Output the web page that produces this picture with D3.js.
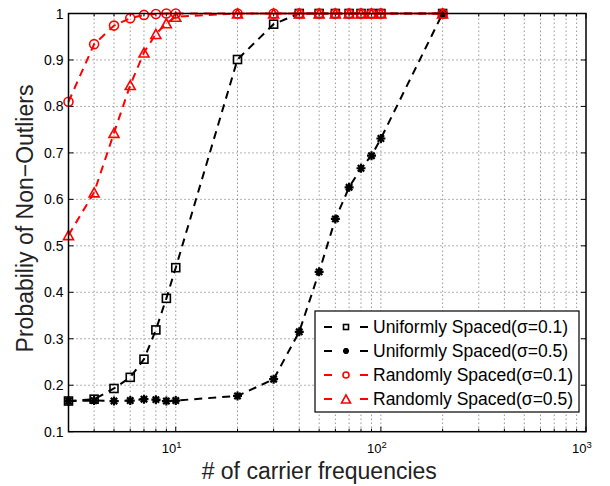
<!DOCTYPE html>
<html><head><meta charset="utf-8">
<script src="https://cdn.jsdelivr.net/npm/d3@7"></script>
<style>
html,body{margin:0;padding:0;background:#fff;}
svg text{font-family:Arial,"Liberation Sans",Helvetica,sans-serif;}
</style></head>
<body>
<svg id="chart" width="610" height="486" font-family="Arial, 'Liberation Sans', Helvetica, sans-serif"></svg>
<script>
const xVals = [3,4,5,6,7,8,9,10,20,30,40,50,60,70,80,90,100,200];
const uniform01 = [0.166,0.170,0.193,0.217,0.256,0.319,0.387,0.453,0.901,0.977,1,1,1,1,1,1,1,1];
const uniform05 = [0.166,0.167,0.166,0.167,0.170,0.169,0.166,0.167,0.177,0.213,0.315,0.444,0.558,0.626,0.667,0.694,0.731,1];
const random01 = [0.810,0.934,0.974,0.990,0.997,0.999,1,1,1,1,1,1,1,1,1,1,1,1];
const random05 = [0.523,0.615,0.743,0.846,0.916,0.956,0.979,0.993,1,1,1,1,1,1,1,1,1,1];
const seriesNames = ["Uniformly Spaced(σ=0.1)","Uniformly Spaced(σ=0.5)","Randomly Spaced(σ=0.1)","Randomly Spaced(σ=0.5)"];
const yTicks = [0.1,0.2,0.3,0.4,0.5,0.6,0.7,0.8,0.9,1];
const yTickLabels = ["0.1","0.2","0.3","0.4","0.5","0.6","0.7","0.8","0.9","1"];
const xMajor = [10,100,1000];
const xMajorExp = ["1","2","3"];
const xLabel = "# of carrier frequencies";
const yLabel = "Probabiliy of Non\u2212Outliers";

const FONT = "Arial, 'Liberation Sans', Helvetica, sans-serif";
const L = 68.5, R = 586, T = 13.5, B = 431.7;
const svg = d3.select("#chart");
const x = d3.scaleLog().domain([3,1000]).range([L,R]);
const y = d3.scaleLinear().domain([0.1,1]).range([B,T]);

const xMinor = [];
for (let d = 1; d <= 100; d *= 10) for (let k = 1; k <= 9; k++) { const v = k*d; if (v >= 3 && v <= 1000) xMinor.push(v); }
xMinor.push(1000);

const grid = svg.append("g").attr("stroke","#666").attr("stroke-width",1).attr("stroke-dasharray","1,3");
xMinor.forEach(v => { if (v > 3 && v < 1000) grid.append("line").attr("x1",x(v)).attr("x2",x(v)).attr("y1",B).attr("y2",T); });
yTicks.forEach(v => { if (v > 0.1 && v < 1) grid.append("line").attr("x1",L).attr("x2",R).attr("y1",y(v)).attr("y2",y(v)); });

const tk = svg.append("g").attr("stroke","#000").attr("stroke-width",1);
xMinor.forEach(v => {
  const len = xMajor.includes(v) ? 5 : 3;
  tk.append("line").attr("x1",x(v)).attr("x2",x(v)).attr("y1",B).attr("y2",B-len);
  tk.append("line").attr("x1",x(v)).attr("x2",x(v)).attr("y1",T).attr("y2",T+len);
});
yTicks.forEach(v => {
  tk.append("line").attr("x1",L).attr("x2",L+5).attr("y1",y(v)).attr("y2",y(v));
  tk.append("line").attr("x1",R).attr("x2",R-5).attr("y1",y(v)).attr("y2",y(v));
});

yTicks.forEach((v,i) => {
  svg.append("text").attr("x",L-5).attr("y",y(v)+5).attr("text-anchor","end")
    .attr("font-family",FONT).attr("font-size",14).attr("fill","#000").text(yTickLabels[i]);
});
xMajor.forEach((v,i) => {
  const t = svg.append("text").attr("x",x(v)-4).attr("y",453.3).attr("text-anchor","middle")
    .attr("font-family",FONT).attr("font-size",13).attr("fill","#000");
  t.append("tspan").text("10");
  t.append("tspan").attr("dy",-5.5).attr("font-size",9.5).text(xMajorExp[i]);
});

svg.append("text").attr("x",(L+R)/2-8).attr("y",479).attr("text-anchor","middle")
  .attr("font-family",FONT).attr("font-size",23).attr("fill","#222").text(xLabel);
svg.append("text").attr("transform","translate(33,218.5) rotate(-90)").attr("text-anchor","middle")
  .attr("font-family",FONT).attr("font-size",23).attr("fill","#222").text(yLabel);

function marker(g, type, cx, cy, s, color) {
  if (type === "square") {
    g.append("rect").attr("x",cx-s/2).attr("y",cy-s/2).attr("width",s).attr("height",s)
      .attr("fill","none").attr("stroke",color).attr("stroke-width",1.6);
  } else if (type === "circle") {
    g.append("circle").attr("cx",cx).attr("cy",cy).attr("r",s/2)
      .attr("fill","none").attr("stroke",color).attr("stroke-width",1.6);
  } else if (type === "triangle") {
    const h = s*0.9;
    g.append("path").attr("d",`M${cx},${cy-h/2}L${cx+s/2},${cy+h/2}L${cx-s/2},${cy+h/2}Z`)
      .attr("fill","none").attr("stroke",color).attr("stroke-width",1.6).attr("stroke-linejoin","miter");
  } else if (type === "asterisk") {
    const r = s/2, d = r*0.7071;
    g.append("path").attr("d",`M${cx-r},${cy}L${cx+r},${cy}M${cx},${cy-r}L${cx},${cy+r}M${cx-d},${cy-d}L${cx+d},${cy+d}M${cx-d},${cy+d}L${cx+d},${cy-d}`)
      .attr("fill","none").attr("stroke",color).attr("stroke-width",2.2);
  }
}

const series = [
  {vals: uniform01, color:"#000", m:"square", s:8, ls:5},
  {vals: uniform05, color:"#000", m:"asterisk", s:9, ls:6},
  {vals: random01, color:"#ff0000", m:"circle", s:9, ls:6},
  {vals: random05, color:"#ff0000", m:"triangle", s:10, ls:9}
];
const line = d3.line().x(d => x(d[0])).y(d => y(d[1]));
series.forEach(sr => {
  const pts = xVals.map((v,i) => [v, sr.vals[i]]);
  const g = svg.append("g");
  g.append("path").attr("d", line(pts)).attr("fill","none").attr("stroke",sr.color)
    .attr("stroke-width",2).attr("stroke-dasharray","8,6");
  pts.forEach(p => marker(g, sr.m, x(p[0]), y(p[1]), sr.s, sr.color));
});

svg.append("rect").attr("x",L).attr("y",T).attr("width",R-L).attr("height",B-T)
  .attr("fill","none").attr("stroke","#000").attr("stroke-width",1.5);

const lg = svg.append("g");
lg.append("rect").attr("x",315).attr("y",311).attr("width",264).attr("height",101)
  .attr("fill","#fff").attr("stroke","#000").attr("stroke-width",1.2);
series.forEach((sr,i) => {
  const cy = 327 + i*24;
  lg.append("line").attr("x1",324).attr("x2",368).attr("y1",cy).attr("y2",cy)
    .attr("stroke",sr.color).attr("stroke-width",2).attr("stroke-dasharray","8,28");
  marker(lg, sr.m, 346, cy, sr.ls, sr.color);
  lg.append("text").attr("x",373).attr("y",cy+6).attr("font-family",FONT).attr("font-size",17.5).attr("fill","#000").text(seriesNames[i]);
});
</script>
</body></html>
